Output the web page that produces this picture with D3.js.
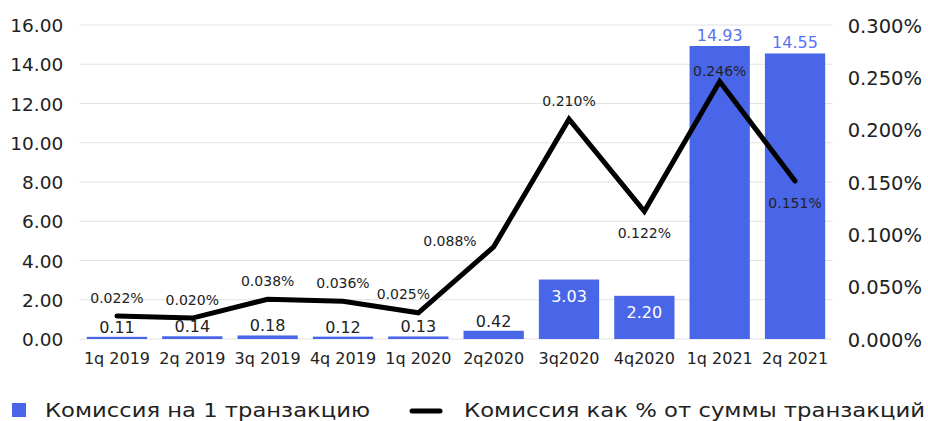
<!DOCTYPE html>
<html>
<head>
<meta charset="utf-8">
<script src="https://cdn.jsdelivr.net/npm/d3@7"></script>
<style>
  html, body { margin: 0; padding: 0; background: #fff; }
  svg { display: block; font-family: "DejaVu Sans", "Open Sans", sans-serif; }
</style>
</head>
<body>
<svg id="chart" width="928" height="421"></svg>
<script>
// Quarterly commission data
const categories = ["1q 2019", "2q 2019", "3q 2019", "4q 2019", "1q 2020", "2q2020", "3q2020", "4q2020", "1q 2021", "2q 2021"];
const feePerTransaction = [0.11, 0.14, 0.18, 0.12, 0.13, 0.42, 3.03, 2.20, 14.93, 14.55];
const feePercent = [0.022, 0.020, 0.038, 0.036, 0.025, 0.088, 0.210, 0.122, 0.246, 0.151];
const leftTicks = [0, 2, 4, 6, 8, 10, 12, 14, 16];
const rightTicks = [0, 0.05, 0.10, 0.15, 0.20, 0.25, 0.30];
const percentLabelPlacement = ["top", "top", "top", "top", "topLeft", "left", "top", "bottom", "topNear", "bottom"];
const seriesNames = ["Комиссия на 1 транзакцию", "Комиссия как % от суммы транзакций"];

const barColor = "#4a66e8";
const svg = d3.select("#chart");

const plot = { left: 79.3, right: 832.7, top: 25, bottom: 339 };

const x = d3.scaleBand()
  .domain(categories)
  .range([plot.left, plot.right])
  .paddingInner(0.2)
  .paddingOuter(0.1);

const yLeft = d3.scaleLinear().domain([0, 16]).range([plot.bottom, plot.top]);
const yRight = d3.scaleLinear().domain([0, 0.30]).range([plot.bottom, plot.top]);

// Gridlines
svg.append("g")
  .selectAll("line")
  .data(leftTicks)
  .join("line")
  .attr("x1", plot.left)
  .attr("x2", plot.right)
  .attr("y1", d => yLeft(d))
  .attr("y2", d => yLeft(d))
  .attr("stroke", "#e2e2e2")
  .attr("stroke-width", 1);

// Left axis
const leftAxis = svg.append("g")
  .attr("transform", `translate(${plot.left - 16},0)`)
  .call(d3.axisLeft(yLeft).tickValues(leftTicks).tickFormat(d3.format(".2f")).tickSize(0).tickPadding(0));
leftAxis.select(".domain").remove();
leftAxis.selectAll("text")
  .attr("font-family", "DejaVu Sans, sans-serif")
  .attr("font-size", 18.5)
  .attr("fill", "#222")
  .attr("dy", "0.36em");

// Right axis
const rightAxis = svg.append("g")
  .attr("transform", `translate(${plot.right + 15},0)`)
  .call(d3.axisRight(yRight).tickValues(rightTicks).tickFormat(d => d.toFixed(3) + "%").tickSize(0).tickPadding(0));
rightAxis.select(".domain").remove();
rightAxis.selectAll("text")
  .attr("font-family", "DejaVu Sans, sans-serif")
  .attr("font-size", 19.5)
  .attr("fill", "#222")
  .attr("dy", "0.36em");

// Category axis
const bottomAxis = svg.append("g")
  .attr("transform", `translate(0,${plot.bottom})`)
  .call(d3.axisBottom(x).tickSize(0).tickPadding(14));
bottomAxis.select(".domain").remove();
bottomAxis.selectAll("text")
  .attr("font-family", "DejaVu Sans, sans-serif")
  .attr("font-size", 16)
  .attr("fill", "#222");

// Bars
svg.append("g")
  .selectAll("rect")
  .data(feePerTransaction)
  .join("rect")
  .attr("x", (d, i) => x(categories[i]))
  .attr("y", d => yLeft(d))
  .attr("width", x.bandwidth())
  .attr("height", d => plot.bottom - yLeft(d))
  .attr("fill", barColor);

// Bar value labels
svg.append("g")
  .selectAll("text")
  .data(feePerTransaction)
  .join("text")
  .attr("x", (d, i) => x(categories[i]) + x.bandwidth() / 2)
  .attr("y", d => d > 10 ? yLeft(d) - 5 : d > 1 ? yLeft(d) + 22 : yLeft(d) - 4)
  .attr("text-anchor", "middle")
  .attr("font-size", 16)
  .attr("fill", d => d > 10 ? "#5a73f0" : d > 1 ? "#fff" : "#222")
  .text(d => d.toFixed(2));

// Percentage line
const line = d3.line()
  .x((d, i) => x(categories[i]) + x.bandwidth() / 2)
  .y(d => yRight(d));

svg.append("path")
  .datum(feePercent)
  .attr("d", line)
  .attr("fill", "none")
  .attr("stroke", "#000")
  .attr("stroke-width", 5)
  .attr("stroke-linejoin", "miter")
  .attr("stroke-linecap", "round");

// Percentage labels
const offsets = {
  top: { dx: 0, dy: -13, anchor: "middle" },
  topNear: { dx: 0, dy: -6, anchor: "middle" },
  topLeft: { dx: -15, dy: -14, anchor: "middle" },
  left: { dx: -17, dy: -1, anchor: "end" },
  bottom: { dx: 0, dy: 27, anchor: "middle" }
};
svg.append("g")
  .selectAll("text")
  .data(feePercent)
  .join("text")
  .attr("x", (d, i) => x(categories[i]) + x.bandwidth() / 2 + offsets[percentLabelPlacement[i]].dx)
  .attr("y", (d, i) => yRight(d) + offsets[percentLabelPlacement[i]].dy)
  .attr("text-anchor", (d, i) => offsets[percentLabelPlacement[i]].anchor)
  .attr("font-size", 14)
  .attr("fill", "#222")
  .text(d => d.toFixed(3) + "%");

// Legend
const legend = svg.append("g");
legend.append("rect")
  .attr("x", 12).attr("y", 403).attr("width", 14).attr("height", 14)
  .attr("fill", barColor);
legend.append("text")
  .attr("x", 45).attr("y", 417)
  .attr("font-size", 20)
  .attr("textLength", 325)
  .attr("lengthAdjust", "spacingAndGlyphs")
  .attr("fill", "#222")
  .text(seriesNames[0]);
legend.append("line")
  .attr("x1", 412).attr("x2", 440).attr("y1", 411).attr("y2", 411)
  .attr("stroke", "#000").attr("stroke-width", 5).attr("stroke-linecap", "round");
legend.append("text")
  .attr("x", 464).attr("y", 417)
  .attr("font-size", 20)
  .attr("textLength", 461)
  .attr("lengthAdjust", "spacingAndGlyphs")
  .attr("fill", "#222")
  .text(seriesNames[1]);
</script>
</body>
</html>
